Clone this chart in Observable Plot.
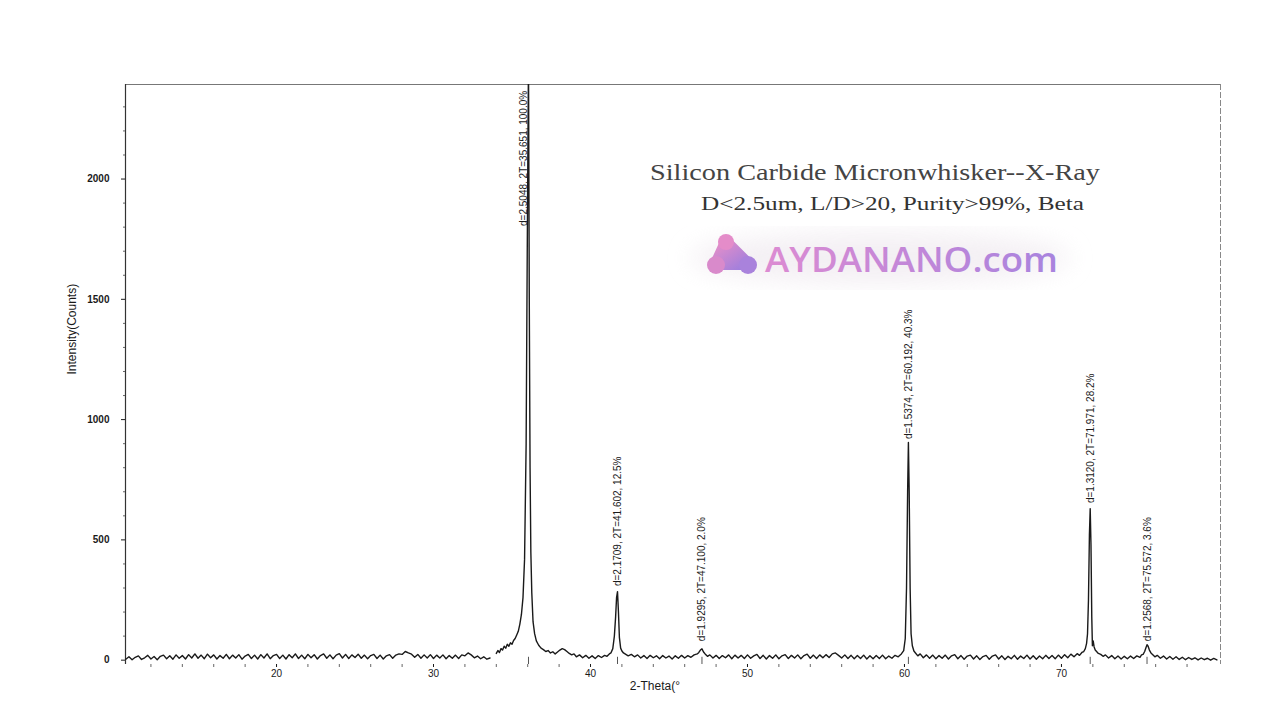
<!DOCTYPE html>
<html><head><meta charset="utf-8">
<script src="https://cdn.jsdelivr.net/npm/d3@7"></script>
<script src="https://cdn.jsdelivr.net/npm/@observablehq/plot@0.6"></script>
<style>
html,body{margin:0;padding:0;background:#fff;}
#wrap{position:relative;width:1280px;height:720px;overflow:hidden;background:#fff;}
#chart{position:absolute;left:0;top:0;}
#over{position:absolute;left:0;top:0;pointer-events:none;}
</style></head><body>
<div id="wrap"><div id="chart"></div>
<svg id="over" width="1280" height="720" xmlns="http://www.w3.org/2000/svg">
  <defs>
    <linearGradient id="lg" x1="0" x2="1" y1="0" y2="0">
      <stop offset="0" stop-color="#dc8bd2"/>
      <stop offset="1" stop-color="#a883de"/>
    </linearGradient>
    <linearGradient id="ig" x1="0" x2="1" y1="0" y2="1">
      <stop offset="0" stop-color="#e88fc8"/>
      <stop offset="1" stop-color="#a17fdc"/>
    </linearGradient>
    <filter id="blur"><feGaussianBlur stdDeviation="12"/></filter>
  </defs>
  <ellipse cx="880" cy="258" rx="190" ry="26" fill="#efe9ef" opacity="0.7" filter="url(#blur)"/>
  <text x="650" y="180" font-family="Liberation Serif, Times New Roman, serif" font-size="23" fill="#444" textLength="450" lengthAdjust="spacingAndGlyphs">Silicon Carbide Micronwhisker--X-Ray</text>
  <text x="701" y="210" font-family="Liberation Serif, Times New Roman, serif" font-size="19.5" fill="#333" textLength="383" lengthAdjust="spacingAndGlyphs">D&lt;2.5um, L/D&gt;20, Purity&gt;99%, Beta</text>
  <g>
    <path d="M716,264 L726,242 L748,264 Z" fill="url(#ig)" stroke="url(#ig)" stroke-width="12" stroke-linejoin="round"/>
    <circle cx="726" cy="242" r="8" fill="#e48cc9"/>
    <circle cx="716" cy="265" r="9" fill="#d98acb"/>
    <circle cx="748" cy="265" r="9" fill="#a982dc"/>
  </g>
  <text x="765" y="272" font-family="Open Sans, Lato, sans-serif" font-weight="600" font-size="35" fill="url(#lg)" textLength="293" lengthAdjust="spacingAndGlyphs">AYDANANO.com</text>
</svg>
</div>
<script>
// XRD scan: [2-theta (deg), intensity (counts)]
const scan = [
[10.4,4],[10.6,14],[10.8,2],[11.0,12],[11.2,18],[11.4,3],[11.6,10],[11.8,20],[12.0,5],[12.2,15],
[12.4,2],[12.6,16],[12.8,21],[13.0,6],[13.2,18],[13.4,4],[13.6,22],[13.8,8],[14.0,19],[14.2,5],
[14.4,23],[14.6,9],[14.8,26],[15.0,8],[15.2,21],[15.4,6],[15.6,25],[15.8,10],[16.0,22],[16.2,5],
[16.4,19],[16.6,8],[16.8,24],[17.0,6],[17.2,21],[17.4,9],[17.6,23],[17.8,4],[18.0,17],[18.2,24],
[18.4,7],[18.6,21],[18.8,5],[19.0,23],[19.2,9],[19.4,26],[19.6,6],[19.8,19],[20.0,24],[20.2,7],
[20.4,21],[20.6,5],[20.8,23],[21.0,10],[21.2,26],[21.4,7],[21.6,21],[21.8,6],[22.0,24],[22.2,10],
[22.4,23],[22.6,5],[22.8,19],[23.0,26],[23.2,8],[23.4,22],[23.6,6],[23.8,21],[24.0,27],[24.2,9],
[24.4,24],[24.6,7],[24.8,22],[25.0,11],[25.2,25],[25.4,8],[25.6,21],[25.8,6],[26.0,19],[26.2,24],
[26.4,7],[26.6,21],[26.8,5],[27.0,18],[27.2,23],[27.4,8],[27.6,21],[27.8,26],[28.0,24],[28.2,36],
[28.4,30],[28.6,25],[28.8,12],[29.0,24],[29.2,8],[29.4,22],[29.6,9],[29.8,23],[30.0,7],[30.2,21],
[30.4,9],[30.6,22],[30.8,6],[31.0,19],[31.2,8],[31.4,21],[31.6,7],[31.8,22],[32.0,18],[32.2,30],
[32.4,22],[32.6,10],[32.8,17],[33.0,6],[33.2,14],[33.4,4],[33.6,9],[33.8,null],
[34.0,28],[34.1,40],[34.2,32],[34.3,48],[34.4,42],[34.5,58],[34.6,50],[34.7,66],[34.8,58],[34.9,72],
[35.0,66],[35.1,82],[35.2,90],[35.3,105],[35.4,120],[35.5,150],[35.6,190],[35.7,260],[35.8,420],[35.9,900],
[35.98,1800],[36.05,2500],[36.1,1500],[36.15,800],[36.2,450],[36.26,280],[36.34,160],[36.44,110],[36.55,80],[36.7,62],
[36.85,50],[37.0,44],[37.15,36],[37.3,40],[37.45,30],[37.6,35],[37.75,26],[37.9,34],[38.05,42],[38.2,48],
[38.35,44],[38.5,36],[38.65,28],[38.8,22],[38.95,26],[39.1,14],[39.3,22],[39.5,10],[39.7,20],[39.9,8],
[40.1,18],[40.3,7],[40.5,19],[40.7,11],[40.9,20],[41.05,16],[41.2,26],[41.3,30],[41.42,48],[41.52,100],
[41.6,180],[41.66,260],[41.72,285],[41.78,200],[41.84,95],[41.92,50],[42.0,38],[42.1,30],[42.25,24],[42.4,18],
[42.6,24],[42.8,14],[43.0,22],[43.2,9],[43.4,19],[43.6,7],[43.8,20],[44.0,10],[44.2,18],[44.4,6],
[44.6,19],[44.8,9],[45.0,17],[45.2,5],[45.4,18],[45.6,8],[45.8,20],[46.0,9],[46.2,19],[46.4,12],
[46.6,22],[46.8,26],[46.9,32],[47.0,42],[47.1,47],[47.2,34],[47.3,26],[47.45,16],[47.6,22],[47.8,9],
[48.0,20],[48.2,7],[48.4,19],[48.6,10],[48.8,22],[49.0,6],[49.2,21],[49.4,9],[49.6,20],[49.8,7],
[50.0,22],[50.2,8],[50.4,18],[50.6,24],[50.8,7],[51.0,20],[51.2,5],[51.4,19],[51.6,8],[51.8,22],
[52.0,6],[52.2,18],[52.4,23],[52.6,7],[52.8,20],[53.0,9],[53.2,22],[53.4,6],[53.6,19],[53.8,25],
[54.0,8],[54.2,21],[54.4,7],[54.6,22],[54.8,10],[55.0,23],[55.2,11],[55.4,26],[55.6,30],[55.8,20],
[56.0,9],[56.2,22],[56.4,7],[56.6,20],[56.8,6],[57.0,19],[57.2,7],[57.4,21],[57.6,5],[57.8,18],
[58.0,6],[58.2,19],[58.4,7],[58.6,21],[58.8,6],[59.0,17],[59.2,8],[59.4,20],[59.6,14],[59.8,26],
[59.95,40],[60.05,90],[60.13,300],[60.2,700],[60.25,905],[60.3,700],[60.36,300],[60.42,110],[60.5,60],[60.6,38],
[60.7,30],[60.85,18],[61.0,26],[61.2,10],[61.4,22],[61.6,8],[61.8,21],[62.0,6],[62.2,19],[62.4,8],
[62.6,21],[62.8,5],[63.0,18],[63.2,23],[63.4,6],[63.6,19],[63.8,4],[64.0,17],[64.2,21],[64.4,5],
[64.6,18],[64.8,3],[65.0,15],[65.2,20],[65.4,4],[65.6,17],[65.8,22],[66.0,5],[66.2,18],[66.4,3],
[66.6,16],[66.8,6],[67.0,20],[67.2,4],[67.4,17],[67.6,7],[67.8,21],[68.0,5],[68.2,18],[68.4,4],
[68.6,17],[68.8,6],[69.0,20],[69.2,7],[69.4,19],[69.6,6],[69.8,21],[70.0,8],[70.2,23],[70.4,10],
[70.6,25],[70.8,14],[71.0,27],[71.15,20],[71.3,32],[71.42,36],[71.52,48],[71.6,70],[71.66,110],[71.72,250],
[71.78,520],[71.83,630],[71.88,480],[71.93,180],[71.97,60],[72.02,80],[72.08,55],[72.15,42],[72.25,35],[72.35,28],
[72.5,24],[72.65,16],[72.8,22],[73.0,9],[73.2,19],[73.4,6],[73.6,17],[73.8,5],[74.0,16],[74.2,6],
[74.4,17],[74.6,7],[74.8,18],[75.0,12],[75.1,22],[75.2,24],[75.3,36],[75.38,52],[75.45,64],[75.52,58],
[75.6,42],[75.7,30],[75.8,24],[75.95,14],[76.1,20],[76.3,8],[76.5,17],[76.7,5],[76.9,15],[77.1,4],
[77.3,14],[77.5,3],[77.7,12],[77.9,2],[78.1,11],[78.3,3],[78.5,10],[78.7,1],[78.9,9],[79.1,2],
[79.3,8],[79.5,0],[79.7,7],[79.9,1]
];

// Peak annotations
const peakLabels = [
  "d=2.5048, 2T=35.651, 100.0%",
  "d=2.1709, 2T=41.602, 12.5%",
  "d=1.9295, 2T=47.100, 2.0%",
  "d=1.5374, 2T=60.192, 40.3%",
  "d=1.3120, 2T=71.971, 28.2%",
  "d=1.2568, 2T=75.572, 3.6%"
];
const peakX  = [36.05, 41.72, 47.1, 60.25, 71.83, 75.45];
const labelX = [35.72, 41.72, 47.1, 60.3, 71.85, 75.48];
const labelY = [1805, 308, 79, 919, 653, 79];

// Axes
const xDomain = [10.38, 80.13];
const yDomain = [-18, 2393];
const xTicks = [20, 30, 40, 50, 60, 70];
const xMinorTicks = [12,14,16,18,20,22,24,26,28,30,32,34,36,38,40,42,44,46,48,50,52,54,56,58,60,62,64,66,68,70,72,74,76,78];
const yTicks = [0, 500, 1000, 1500, 2000];
const yMinorTicks = [100,200,300,400,600,700,800,900,1100,1200,1300,1400,1600,1700,1800,1900,2100,2200,2300];

const narrow = "'Liberation Sans Narrow', 'Arial Narrow', 'Liberation Sans', Arial, sans-serif";

const chart = Plot.plot({
  width: 1280,
  height: 720,
  marginLeft: 125,
  marginRight: 60,
  marginTop: 84,
  marginBottom: 56,
  x: {domain: xDomain},
  y: {domain: yDomain},
  style: {fontFamily: "'Liberation Sans', Arial, sans-serif", fontSize: "10px", color: "#1a1a1a", background: "transparent"},
  marks: [
    Plot.ruleY([yDomain[1]], {stroke: "#777", strokeWidth: 1}),
    Plot.ruleX([xDomain[1]], {stroke: "#888", strokeWidth: 1, strokeDasharray: "6,2"}),
    Plot.ruleX([xDomain[0]], {stroke: "#333", strokeWidth: 1.2}),
    Plot.axisY({ticks: yMinorTicks, tickSize: 2, tickFormat: () => "", label: null, stroke: "#666"}),
    Plot.axisY({ticks: yTicks, tickSize: 4, tickPadding: 12, tickFormat: d3.format("d"), label: null, fontSize: 10, fontWeight: "bold"}),
    Plot.axisX({ticks: xMinorTicks, tickSize: 3, tickFormat: () => "", label: null, stroke: "#666"}),
    Plot.axisX({ticks: xTicks, tickSize: 3, tickPadding: 2, tickFormat: d3.format("d"), label: null, fontSize: 10}),
    Plot.text(["Intensity(Counts)"], {frameAnchor: "left", dx: -53, rotate: -90, fontSize: 12, fontFamily: narrow, fill: "#1a1a1a"}),
    Plot.text(["2-Theta(°"], {frameAnchor: "bottom", x: 44.1, dy: 25, fontSize: 12, fontFamily: narrow, fill: "#1a1a1a"}),
    Plot.ruleX(peakX, {y1: yDomain[0], y2: 12, stroke: "#555", strokeWidth: 1}),
    Plot.line(scan, {x: d => d[0], y: d => d[1], stroke: "#1a1a1a", strokeWidth: 1.4, clip: true}),
    Plot.text(peakLabels, {x: labelX, y: labelY, text: d => d, rotate: -90, textAnchor: "start", fontSize: 10, fontFamily: narrow, fill: "#1a1a1a"})
  ]
});
document.getElementById("chart").appendChild(chart);
</script>
</body></html>
